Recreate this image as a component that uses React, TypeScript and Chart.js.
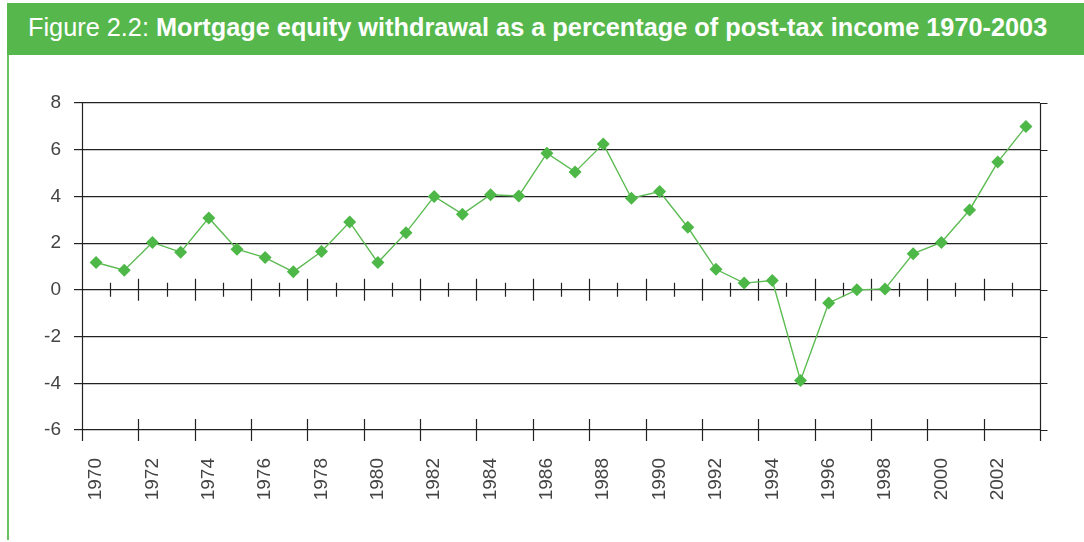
import React, { useEffect, useRef } from "react";
import { Chart, registerables } from "chart.js";

Chart.register(...registerables);

const years: string[] = [
  "1970", "1971", "1972", "1973", "1974", "1975", "1976", "1977", "1978", "1979",
  "1980", "1981", "1982", "1983", "1984", "1985", "1986", "1987", "1988", "1989",
  "1990", "1991", "1992", "1993", "1994", "1995", "1996", "1997", "1998", "1999",
  "2000", "2001", "2002", "2003",
];

const mewPercent: number[] = [
  1.17, 0.84, 2.03, 1.61, 3.08, 1.74, 1.38, 0.77, 1.64, 2.9,
  1.17, 2.45, 4.0, 3.24, 4.07, 4.02, 5.85, 5.05, 6.25, 3.92,
  4.21, 2.68, 0.88, 0.29, 0.4, -3.88, -0.56, 0.0, 0.04, 1.55,
  2.03, 3.42, 5.47, 6.99,
];

const yMin = -6;
const yMax = 8;
const yStep = 2;

const FONT = "'Liberation Sans', Arial, Helvetica, sans-serif";
const GREEN = "#56b84c";
const AXIS = "#222222";

const axisDecor = {
  id: "axisDecor",
  beforeDatasetsDraw(chart: any) {
    const { ctx, chartArea, scales } = chart;
    const { left, right, top, bottom } = chartArea;
    const x = scales.x;
    const y = scales.y;
    const y0 = y.getPixelForValue(0);
    const n = x.ticks.length;
    const half = (x.getPixelForValue(1) - x.getPixelForValue(0)) / 2;
    ctx.save();
    ctx.strokeStyle = AXIS;
    ctx.lineWidth = 1.2;
    ctx.beginPath();
    for (let b = 1; b < n; b++) {
      const xb = Math.round(x.getPixelForValue(b) - half) + 0.5;
      const major = b % 2 === 0;
      if (major) {
        ctx.moveTo(xb, y0 - 11);
        ctx.lineTo(xb, y0 + 11);
        ctx.moveTo(xb, bottom - 11);
        ctx.lineTo(xb, bottom + 11);
      } else {
        ctx.moveTo(xb, y0 - 7);
        ctx.lineTo(xb, y0 + 7);
      }
    }
    const lx = Math.round(left) + 0.5;
    const rx = Math.round(right) + 0.5;
    ctx.moveTo(lx, top);
    ctx.lineTo(lx, bottom + 11);
    ctx.moveTo(rx, top);
    ctx.lineTo(rx, bottom + 11);
    for (let v = yMin; v <= yMax; v += yStep) {
      const py = Math.round(y.getPixelForValue(v)) + 0.5;
      ctx.moveTo(rx, py);
      ctx.lineTo(rx + 7, py);
    }
    ctx.stroke();
    ctx.restore();
  },
};

function MewChart() {
  const canvasRef = useRef<HTMLCanvasElement | null>(null);

  useEffect(() => {
    const canvas = canvasRef.current;
    if (!canvas) return;
    const chart = new Chart(canvas, {
      type: "line",
      data: {
        labels: years,
        datasets: [
          {
            label: "Mortgage equity withdrawal (% of post-tax income)",
            data: mewPercent,
            borderColor: "#5cbb52",
            borderWidth: 1.4,
            pointStyle: "rectRot",
            pointRadius: 6.5,
            pointHoverRadius: 6.5,
            pointBackgroundColor: "#4db848",
            pointBorderColor: "#4db848",
            pointBorderWidth: 0,
            tension: 0,
            fill: false,
          },
        ],
      },
      options: {
        responsive: false,
        animation: false,
        layout: { padding: { top: 103, right: 44, left: 0, bottom: 0 } },
        plugins: {
          legend: { display: false },
          title: { display: false },
          tooltip: { enabled: false },
        },
        scales: {
          x: {
            type: "category",
            offset: true,
            afterFit: (scale: any) => {
              scale.height = 112;
            },
            border: { display: false },
            grid: { display: false, drawTicks: false },
            ticks: {
              autoSkip: false,
              maxRotation: 90,
              minRotation: 90,
              padding: 28,
              color: "#444444",
              font: { family: FONT, size: 19 },
              callback: (_v: any, i: number) => (i % 2 === 0 ? years[i] : ""),
            },
          },
          y: {
            min: yMin,
            max: yMax,
            afterFit: (scale: any) => {
              scale.width = 82;
            },
            border: { display: false },
            grid: {
              color: AXIS,
              lineWidth: 1.2,
              tickLength: 8,
              drawTicks: true,
            },
            ticks: {
              stepSize: yStep,
              padding: 13,
              color: "#444444",
              font: { family: FONT, size: 19 },
            },
          },
        },
      },
      plugins: [axisDecor],
    });
    return () => chart.destroy();
  }, []);

  return (
    <canvas
      ref={canvasRef}
      width={1084}
      height={542}
      style={{ position: "absolute", left: 0, top: 0, width: 1084, height: 542 }}
    />
  );
}

export default function App() {
  return (
    <div
      style={{
        position: "fixed",
        left: 0,
        top: 0,
        width: 1084,
        height: 542,
        background: "#ffffff",
        overflow: "hidden",
      }}
    >
      <MewChart />
      <div
        style={{
          position: "absolute",
          left: 7,
          top: 3,
          width: 1077,
          height: 52,
          background: GREEN,
          color: "#ffffff",
          fontFamily: FONT,
          fontSize: 25.3,
          lineHeight: "48px",
          paddingLeft: 21,
          boxSizing: "border-box",
          whiteSpace: "nowrap",
        }}
      >
        Figure 2.2: <b>Mortgage equity withdrawal as a percentage of post-tax income 1970-2003</b>
      </div>
      <div
        style={{
          position: "absolute",
          left: 7,
          top: 55,
          width: 1.5,
          height: 485,
          background: "#6cc262",
        }}
      />
    </div>
  );
}
